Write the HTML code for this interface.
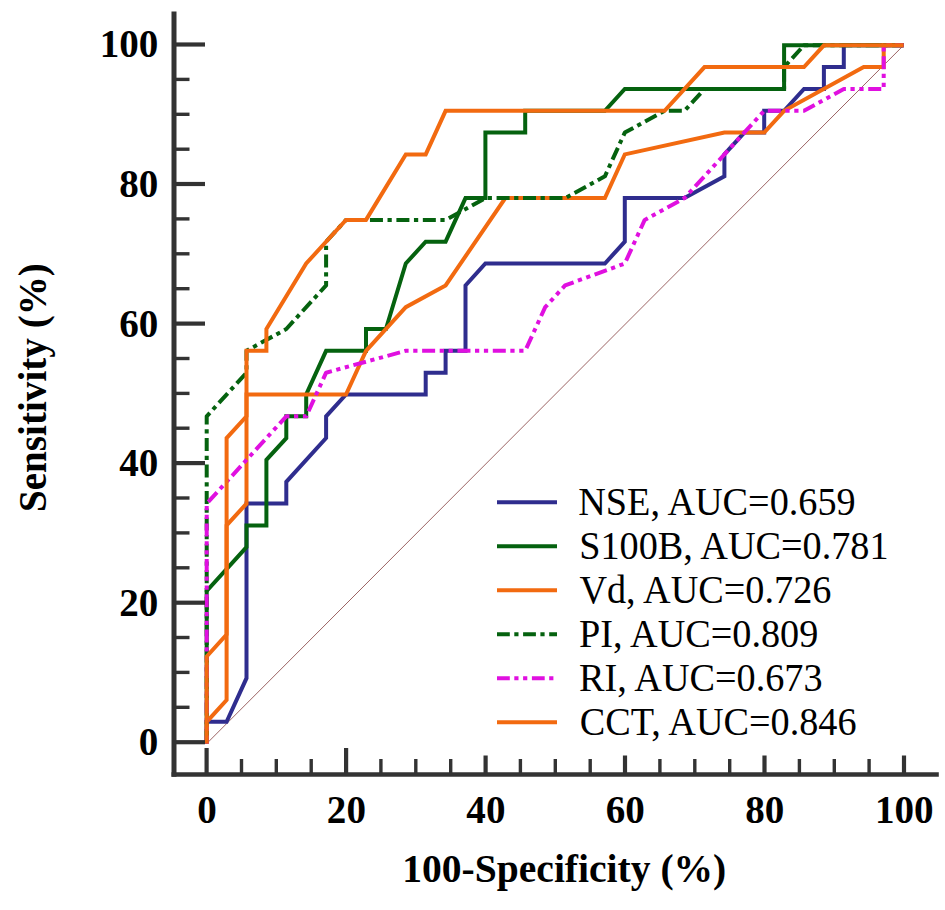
<!DOCTYPE html><html><head><meta charset="utf-8"><style>html,body{margin:0;padding:0;background:#fff}svg{display:block}text{font-family:"Liberation Serif",serif}</style></head><body>
<svg width="945" height="910" viewBox="0 0 945 910">
<rect width="945" height="910" fill="#fff"/>
<line x1="206.7" y1="743.6" x2="903.6" y2="45.3" stroke="#9c6464" stroke-width="1.0"/>
<polyline points="206.7,743.6 206.7,721.8 226.6,721.8 246.5,678.2 246.5,503.6 286.3,503.6 286.3,481.8 326.1,438.1 326.1,416.3 346.0,394.5 425.7,394.5 425.7,372.7 445.6,372.7 445.6,350.8 465.5,350.8 465.5,285.4 485.4,263.5 604.9,263.5 624.8,241.7 624.8,198.1 684.5,198.1 724.4,176.3 724.4,154.4 744.3,132.6 764.2,132.6 764.2,110.8 784.1,110.8 804.0,89.0 823.9,89.0 823.9,67.1 843.8,67.1 843.8,45.3 903.6,45.3" fill="none" stroke="#2f2d8e" stroke-width="4.0" stroke-linejoin="miter" stroke-linecap="butt"/>
<polyline points="206.7,743.6 206.7,590.9 246.5,547.2 246.5,525.4 266.4,525.4 266.4,459.9 286.3,438.1 286.3,416.3 306.2,416.3 306.2,394.5 326.1,350.8 366.0,350.8 366.0,329.0 385.9,329.0 405.8,263.5 425.7,241.7 445.6,241.7 465.5,198.1 485.4,198.1 485.4,132.6 525.2,132.6 525.2,110.8 604.9,110.8 624.8,89.0 784.1,89.0 784.1,45.3 903.6,45.3" fill="none" stroke="#05620f" stroke-width="4.0" stroke-linejoin="miter" stroke-linecap="butt"/>
<polyline points="206.7,743.6 206.7,721.8 226.6,700.0 226.6,525.4 246.5,503.6 246.5,394.5 346.0,394.5 366.0,350.8 405.8,307.2 445.6,285.4 505.3,198.1 604.9,198.1 624.8,154.4 724.4,132.6 764.2,132.6 784.1,110.8 863.7,67.1 883.7,67.1 883.7,45.3 903.6,45.3" fill="none" stroke="#f26a10" stroke-width="4.0" stroke-linejoin="miter" stroke-linecap="butt"/>
<polyline points="206.7,743.6 206.7,416.3 246.5,372.7 246.5,350.8 286.3,329.0 326.1,285.4 326.1,241.7 346.0,219.9 366.0,219.9 445.6,219.9 485.4,198.1 565.1,198.1 604.9,176.3 624.8,132.6 664.6,110.8 684.5,110.8 704.5,89.0 784.1,89.0 784.1,67.1 804.0,45.3 903.6,45.3" fill="none" stroke="#05620f" stroke-width="4.0" stroke-linejoin="round" stroke-linecap="butt" stroke-dasharray="13.0 4.55 4.25 4.64" stroke-dashoffset="-1.7"/>
<polyline points="206.7,743.6 206.7,503.6 286.3,416.3 306.2,416.3 326.1,372.7 405.8,350.8 525.2,350.8 545.2,307.2 565.1,285.4 624.8,263.5 644.7,219.9 684.5,198.1 764.2,110.8 804.0,110.8 843.8,89.0 883.7,89.0 883.7,45.3 903.6,45.3" fill="none" stroke="#e010e0" stroke-width="4.0" stroke-linejoin="round" stroke-linecap="butt" stroke-dasharray="13.0 4.55 4.25 4.64 4.25 4.64" stroke-dashoffset="5.0"/>
<polyline points="206.7,743.6 206.7,656.4 226.6,634.5 226.6,438.1 246.5,416.3 246.5,350.8 266.4,350.8 266.4,329.0 306.2,263.5 346.0,219.9 366.0,219.9 405.8,154.4 425.7,154.4 445.6,110.8 664.6,110.8 704.5,67.1 804.0,67.1 823.9,45.3 903.6,45.3" fill="none" stroke="#f26a10" stroke-width="4.0" stroke-linejoin="miter" stroke-linecap="butt"/>
<line x1="174" y1="11.5" x2="174" y2="776.8" stroke="#333333" stroke-width="5"/>
<line x1="171.5" y1="774.5" x2="938.8" y2="774.5" stroke="#333333" stroke-width="4.6"/>
<line x1="176" y1="742.2" x2="205" y2="742.2" stroke="#333333" stroke-width="4.2"/>
<line x1="176" y1="707.3" x2="189.5" y2="707.3" stroke="#333333" stroke-width="3.4"/>
<line x1="176" y1="672.4" x2="189.5" y2="672.4" stroke="#333333" stroke-width="3.4"/>
<line x1="176" y1="637.5" x2="189.5" y2="637.5" stroke="#333333" stroke-width="3.4"/>
<line x1="176" y1="602.7" x2="205" y2="602.7" stroke="#333333" stroke-width="4.2"/>
<line x1="176" y1="567.8" x2="189.5" y2="567.8" stroke="#333333" stroke-width="3.4"/>
<line x1="176" y1="532.9" x2="189.5" y2="532.9" stroke="#333333" stroke-width="3.4"/>
<line x1="176" y1="498.0" x2="189.5" y2="498.0" stroke="#333333" stroke-width="3.4"/>
<line x1="176" y1="463.1" x2="205" y2="463.1" stroke="#333333" stroke-width="4.2"/>
<line x1="176" y1="428.2" x2="189.5" y2="428.2" stroke="#333333" stroke-width="3.4"/>
<line x1="176" y1="393.4" x2="189.5" y2="393.4" stroke="#333333" stroke-width="3.4"/>
<line x1="176" y1="358.5" x2="189.5" y2="358.5" stroke="#333333" stroke-width="3.4"/>
<line x1="176" y1="323.6" x2="205" y2="323.6" stroke="#333333" stroke-width="4.2"/>
<line x1="176" y1="288.7" x2="189.5" y2="288.7" stroke="#333333" stroke-width="3.4"/>
<line x1="176" y1="253.8" x2="189.5" y2="253.8" stroke="#333333" stroke-width="3.4"/>
<line x1="176" y1="218.9" x2="189.5" y2="218.9" stroke="#333333" stroke-width="3.4"/>
<line x1="176" y1="184.0" x2="205" y2="184.0" stroke="#333333" stroke-width="4.2"/>
<line x1="176" y1="149.2" x2="189.5" y2="149.2" stroke="#333333" stroke-width="3.4"/>
<line x1="176" y1="114.3" x2="189.5" y2="114.3" stroke="#333333" stroke-width="3.4"/>
<line x1="176" y1="79.4" x2="189.5" y2="79.4" stroke="#333333" stroke-width="3.4"/>
<line x1="176" y1="44.5" x2="205" y2="44.5" stroke="#333333" stroke-width="4.2"/>
<line x1="206.6" y1="748" x2="206.6" y2="773" stroke="#333333" stroke-width="4.2"/>
<line x1="241.5" y1="759" x2="241.5" y2="773" stroke="#333333" stroke-width="3.4"/>
<line x1="276.3" y1="759" x2="276.3" y2="773" stroke="#333333" stroke-width="3.4"/>
<line x1="311.2" y1="759" x2="311.2" y2="773" stroke="#333333" stroke-width="3.4"/>
<line x1="346.1" y1="748" x2="346.1" y2="773" stroke="#333333" stroke-width="4.2"/>
<line x1="380.9" y1="759" x2="380.9" y2="773" stroke="#333333" stroke-width="3.4"/>
<line x1="415.8" y1="759" x2="415.8" y2="773" stroke="#333333" stroke-width="3.4"/>
<line x1="450.7" y1="759" x2="450.7" y2="773" stroke="#333333" stroke-width="3.4"/>
<line x1="485.6" y1="755.5" x2="485.6" y2="773" stroke="#333333" stroke-width="4.2"/>
<line x1="520.4" y1="759" x2="520.4" y2="773" stroke="#333333" stroke-width="3.4"/>
<line x1="555.3" y1="759" x2="555.3" y2="773" stroke="#333333" stroke-width="3.4"/>
<line x1="590.2" y1="759" x2="590.2" y2="773" stroke="#333333" stroke-width="3.4"/>
<line x1="625.0" y1="755.5" x2="625.0" y2="773" stroke="#333333" stroke-width="4.2"/>
<line x1="659.9" y1="759" x2="659.9" y2="773" stroke="#333333" stroke-width="3.4"/>
<line x1="694.8" y1="759" x2="694.8" y2="773" stroke="#333333" stroke-width="3.4"/>
<line x1="729.7" y1="759" x2="729.7" y2="773" stroke="#333333" stroke-width="3.4"/>
<line x1="764.5" y1="755.5" x2="764.5" y2="773" stroke="#333333" stroke-width="4.2"/>
<line x1="799.4" y1="759" x2="799.4" y2="773" stroke="#333333" stroke-width="3.4"/>
<line x1="834.3" y1="759" x2="834.3" y2="773" stroke="#333333" stroke-width="3.4"/>
<line x1="869.1" y1="759" x2="869.1" y2="773" stroke="#333333" stroke-width="3.4"/>
<line x1="904.0" y1="755.5" x2="904.0" y2="773" stroke="#333333" stroke-width="4.2"/>
<text transform="translate(158.3,755.1) scale(0.965,1)" font-size="40.5" font-weight="bold" text-anchor="end">0</text>
<text transform="translate(206.9,822.6) scale(0.965,1)" font-size="40.5" font-weight="bold" text-anchor="middle">0</text>
<text transform="translate(158.3,615.6) scale(0.965,1)" font-size="40.5" font-weight="bold" text-anchor="end">20</text>
<text transform="translate(346.4,822.6) scale(0.965,1)" font-size="40.5" font-weight="bold" text-anchor="middle">20</text>
<text transform="translate(158.3,476.0) scale(0.965,1)" font-size="40.5" font-weight="bold" text-anchor="end">40</text>
<text transform="translate(485.9,822.6) scale(0.965,1)" font-size="40.5" font-weight="bold" text-anchor="middle">40</text>
<text transform="translate(158.3,336.5) scale(0.965,1)" font-size="40.5" font-weight="bold" text-anchor="end">60</text>
<text transform="translate(625.3,822.6) scale(0.965,1)" font-size="40.5" font-weight="bold" text-anchor="middle">60</text>
<text transform="translate(158.3,196.9) scale(0.965,1)" font-size="40.5" font-weight="bold" text-anchor="end">80</text>
<text transform="translate(764.8,822.6) scale(0.965,1)" font-size="40.5" font-weight="bold" text-anchor="middle">80</text>
<text transform="translate(158.3,57.4) scale(0.965,1)" font-size="40.5" font-weight="bold" text-anchor="end">100</text>
<text transform="translate(904.3,822.6) scale(0.965,1)" font-size="40.5" font-weight="bold" text-anchor="middle">100</text>
<text x="402.3" y="882" font-size="40.8" font-weight="bold" textLength="324" lengthAdjust="spacingAndGlyphs">100-Specificity (%)</text>
<text transform="translate(45.8,512) rotate(-90)" x="0" y="0" font-size="41" font-weight="bold" textLength="248.8" lengthAdjust="spacingAndGlyphs">Sensitivity (%)</text>
<line x1="497" y1="502.2" x2="557" y2="502.2" stroke="#2f2d8e" stroke-width="4.0"/>
<text transform="translate(578.2,514.8) scale(0.968,1)" font-size="39.5">NSE, AUC=0.659</text>
<line x1="497" y1="546.2" x2="557" y2="546.2" stroke="#05620f" stroke-width="4.0"/>
<text transform="translate(579.2,558.8) scale(0.968,1)" font-size="39.5">S100B, AUC=0.781</text>
<line x1="497" y1="590.2" x2="557" y2="590.2" stroke="#f26a10" stroke-width="4.0"/>
<text transform="translate(579.4,602.8) scale(0.968,1)" font-size="39.5">Vd, AUC=0.726</text>
<line x1="497" y1="634.2" x2="557" y2="634.2" stroke="#05620f" stroke-width="4.0" stroke-dasharray="12.8 4.5 4.2 4.6"/>
<text transform="translate(579.1,646.8) scale(0.968,1)" font-size="39.5">PI, AUC=0.809</text>
<line x1="497" y1="678.2" x2="557" y2="678.2" stroke="#e010e0" stroke-width="4.0" stroke-dasharray="12.8 4.5 4.2 4.6 4.2 4.6"/>
<text transform="translate(579.1,690.8) scale(0.968,1)" font-size="39.5">RI, AUC=0.673</text>
<line x1="497" y1="722.2" x2="557" y2="722.2" stroke="#f26a10" stroke-width="4.0"/>
<text transform="translate(579.8,734.8) scale(0.968,1)" font-size="39.5">CCT, AUC=0.846</text>
</svg></body></html>
